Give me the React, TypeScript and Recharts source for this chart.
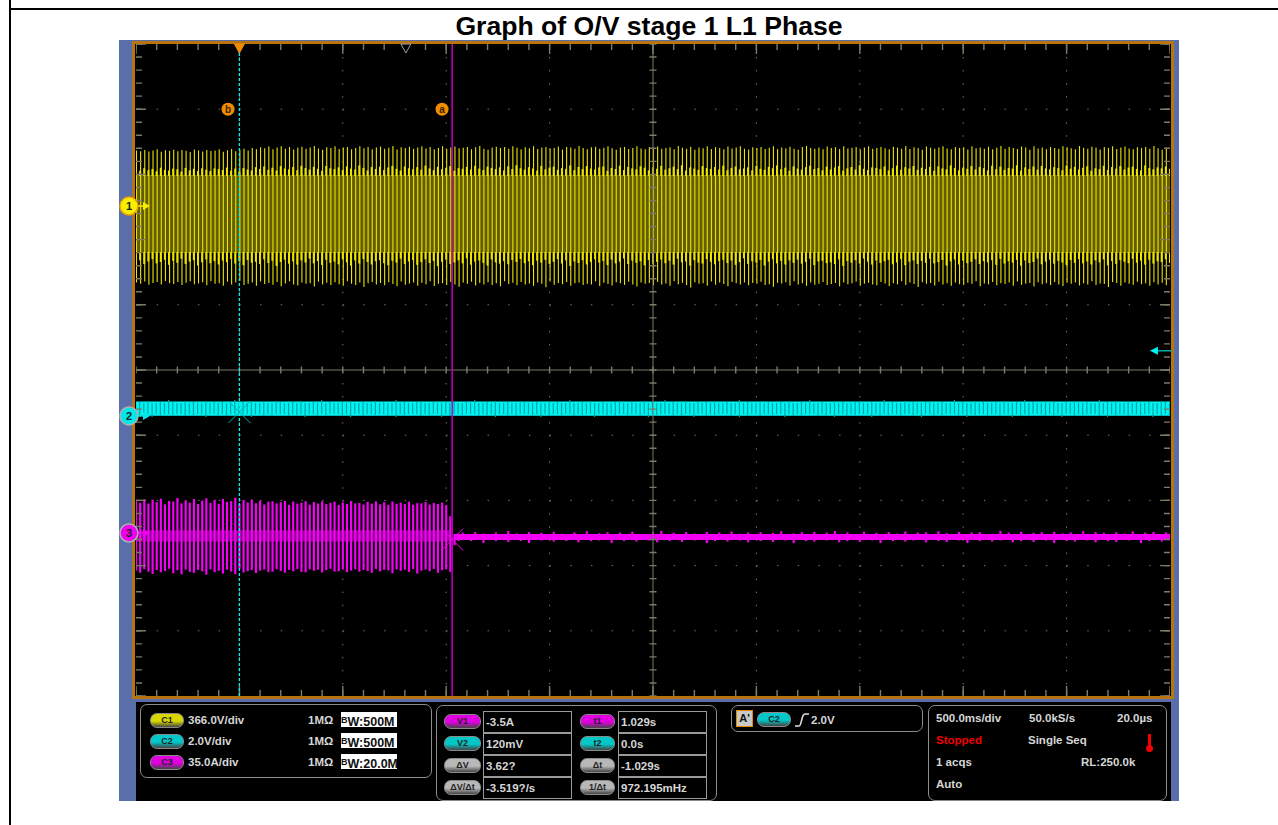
// App.tsx - scope capture "Graph of O/V stage 1 L1 Phase"
import React from 'react';
import { ComposedChart, Area, Bar, XAxis, YAxis, CartesianGrid, ReferenceLine, ReferenceDot } from 'recharts';

// one sample per mains cycle (20 ms), 500 ms/div over 10 div
const SAMPLE_MS = 20;
const TRIP_T = 1529;
const TRIGGER_T = 500;

// C1, volts: spike tips
const c1High = [
  312, 308, 315, 306, 311, 318, 304, 313, 309, 316,
  307, 314, 310, 303, 317, 312, 306, 315, 309, 311,
  318, 305, 313, 320, 308, 316, 322, 311, 326, 318,
  330, 324, 334, 319, 328, 336, 322, 331, 317, 327,
  333, 321, 329, 337, 323, 316, 330, 325, 335, 320,
  328, 332, 318, 326, 336, 324, 331, 319, 329, 334,
  322, 327, 337, 317, 330, 325, 333, 321, 328, 335,
  323, 331, 318, 326, 336, 320, 329, 334, 324, 327,
  332, 319, 330, 337, 322, 316, 328, 333, 325, 331,
  321, 335, 327, 318, 330, 324, 336, 320, 329, 332,
  323, 326, 334, 317, 331, 328, 322, 337, 325, 319,
  330, 333, 321, 327, 335, 324, 316, 329, 332, 320,
  326, 336, 323, 318, 331, 328, 334, 322, 325, 330,
  319, 337, 327, 321, 333, 316, 329, 324, 335, 320,
  331, 326, 318, 334, 323, 328, 336, 322, 317, 330,
  325, 332, 320, 327, 335, 319, 329, 324, 333, 321,
  316, 331, 337, 326, 322, 328, 318, 334, 325, 330,
  320, 336, 323, 327, 332, 317, 329, 335, 321, 326,
  331, 324, 318, 333, 328, 322, 337, 320, 330, 325,
  316, 334, 327, 321, 329, 336, 323, 319, 332, 326,
  330, 317, 335, 324, 328, 321, 333, 318, 327, 337,
  322, 331, 325, 320, 334, 329, 316, 336, 323, 328,
  319, 332, 326, 321, 335, 330, 324, 318, 337, 327,
  322, 333, 329, 317, 331, 325, 336, 320, 328, 334,
  323, 319, 330, 326, 332, 321, 337, 324, 316, 329,
  327,
];

const c1Low = [
  -430, -436, -424, -442, -432, -427, -440, -421, -434, -438,
  -426, -443, -431, -423, -439, -435, -428, -445, -422, -437,
  -433, -447, -425, -441, -429, -420, -444, -436, -430, -448,
  -424, -438, -432, -442, -427, -450, -435, -423, -440, -446,
  -429, -437, -433, -452, -425, -441, -431, -444, -428, -439,
  -448, -422, -436, -443, -430, -455, -434, -426, -440, -432,
  -445, -428, -438, -451, -424, -442, -435, -429, -447, -431,
  -439, -423, -449, -437, -433, -444, -427, -441, -453, -430,
  -436, -425, -446, -432, -440, -428, -443, -434, -450, -422,
  -438, -431, -445, -426, -441, -435, -448, -429, -437, -456,
  -424, -442, -432, -439, -427, -447, -433, -430, -444, -436,
  -440, -423, -449, -431, -438, -446, -428, -434, -443, -425,
  -441, -452, -429, -437, -432, -445, -426, -440, -435, -448,
  -422, -439, -431, -443, -458, -428, -436, -433, -447, -424,
  -442, -430, -438, -450, -427, -434, -441, -429, -445, -432,
  -437, -425, -444, -439, -453, -431, -435, -428, -446, -423,
  -440, -433, -448, -430, -442, -436, -426, -443, -438, -432,
  -451, -429, -439, -434, -424, -447, -437, -431, -441, -445,
  -427, -435, -449, -433, -440, -422, -443, -430, -438, -454,
  -428, -436, -432, -446, -425, -441, -434, -448, -429, -439,
  -443, -431, -437, -423, -450, -435, -440, -427, -445, -433,
  -438, -430, -447, -424, -442, -436, -432, -452, -428, -439,
  -434, -444, -426, -441, -449, -431, -437, -429, -446, -433,
  -440, -423, -443, -435, -438, -455, -427, -432, -448, -430,
  -436, -442, -425, -439, -433, -447, -428, -441, -431, -445,
  -437,
];

// C1, volts: upper and lower shoulders where the trace piles up
const c1ShoulderHigh = [
  205, 198, 212, 201, 208, 195, 215, 203, 199, 210,
  206, 193, 214, 200, 209, 197, 212, 204, 196, 211,
  207, 202, 216, 198, 210, 194, 213, 205, 200, 218,
  208, 222, 203, 215, 199, 224, 211, 206, 219, 201,
  226, 213, 204, 220, 209, 198, 225, 212, 207, 217,
  202, 223, 210, 205, 228, 214, 200, 219, 208, 221,
  203, 216, 225, 209, 199, 222, 212, 206, 218, 204,
  227, 211, 201, 220, 207, 215, 224, 198, 213, 209,
  219, 205, 226, 210, 202, 221, 214, 207, 217, 200,
  223, 208, 229, 212, 204, 218, 211, 199, 225, 206,
  216, 221, 203, 213, 209, 228, 201, 219, 207, 224,
  210, 205, 217, 222, 198, 214, 208, 226, 202, 220,
  211, 206, 223, 215, 200, 218, 209, 225, 204, 212,
  221, 207, 229, 199, 216, 210, 203, 224, 213, 208,
  219, 205, 227, 201, 214, 222, 206, 211, 217, 200,
  225, 209, 203, 220, 212, 228, 207, 215, 198, 223,
  210, 204, 218, 226, 208, 213, 201, 221, 206, 216,
  224, 199, 211, 219, 205, 229, 209, 202, 217, 214,
  207, 222, 200, 212, 227, 204, 218, 210, 225, 203,
  215, 208, 220, 198, 223, 211, 206, 228, 213, 201,
  216, 209, 224, 205, 219, 212, 200, 226, 207, 221,
  203, 214, 210, 229, 199, 217, 208, 222, 204, 225,
  211, 206, 218, 213, 201, 227, 209, 220, 205, 215,
  223, 198, 212, 207, 226, 202, 219, 210, 224, 204,
  216, 221, 208, 200, 228, 213, 206, 217, 211, 222,
  209,
];

const c1ShoulderLow = [
  -318, -305, -326, -311, -298, -322, -314, -302, -330, -308,
  -319, -296, -325, -312, -304, -334, -316, -300, -321, -309,
  -328, -306, -315, -297, -323, -310, -332, -303, -318, -313,
  -326, -299, -320, -307, -336, -314, -301, -324, -311, -329,
  -305, -317, -295, -322, -309, -331, -302, -319, -312, -327,
  -300, -316, -335, -306, -323, -298, -314, -328, -310, -304,
  -321, -333, -307, -318, -296, -325, -311, -303, -330, -315,
  -299, -320, -308, -337, -313, -301, -326, -317, -305, -322,
  -294, -329, -312, -306, -319, -334, -300, -316, -324, -309,
  -327, -303, -314, -297, -321, -310, -332, -307, -318, -302,
  -325, -313, -298, -323, -305, -336, -311, -320, -304, -328,
  -315, -299, -317, -308, -331, -301, -322, -312, -295, -326,
  -306, -319, -310, -333, -303, -324, -314, -300, -321, -307,
  -329, -296, -316, -311, -335, -304, -318, -323, -298, -313,
  -327, -309, -302, -320, -306, -330, -315, -294, -325, -310,
  -317, -303, -334, -312, -299, -322, -308, -328, -305, -319,
  -301, -324, -314, -297, -331, -311, -307, -321, -316, -326,
  -300, -336, -309, -318, -304, -323, -295, -313, -329, -306,
  -320, -310, -302, -327, -317, -298, -332, -312, -305, -325,
  -308, -319, -296, -322, -315, -303, -334, -311, -300, -328,
  -307, -321, -313, -299, -326, -309, -316, -304, -330, -297,
  -323, -310, -318, -302, -335, -306, -320, -314, -295, -327,
  -312, -301, -324, -308, -317, -331, -303, -319, -298, -322,
  -311, -328, -305, -316, -300, -333, -309, -325, -304, -313,
  -321, -296, -318, -307, -329, -302, -323, -310, -315, -299,
  -320,
];

// C2, millivolts: noise outside the thick trace
const c2High = [
  400, 430, 400, 460, 400, 400, 430, 400, 490, 430,
  400, 400, 460, 400, 430, 400, 400, 460, 400, 430,
  400, 430, 400, 400, 490, 400, 430, 400, 460, 400,
  400, 430, 400, 400, 460, 430, 400, 400, 430, 400,
  460, 400, 400, 430, 400, 490, 400, 430, 400, 400,
  430, 400, 460, 400, 400, 430, 400, 400, 460, 400,
  430, 400, 400, 490, 400, 430, 400, 400, 430, 460,
  400, 400, 430, 400, 400, 460, 400, 430, 400, 400,
  430, 400, 490, 400, 400, 430, 400, 460, 400, 400,
  430, 400, 400, 460, 430, 400, 400, 430, 400, 400,
  460, 400, 430, 400, 400, 490, 400, 400, 430, 400,
  460, 400, 400, 430, 400, 400, 430, 460, 400, 400,
  430, 400, 400, 460, 400, 430, 400, 400, 490, 400,
  430, 400, 400, 460, 400, 400, 430, 400, 430, 400,
  460, 400, 400, 430, 400, 400, 490, 400, 430, 400,
  400, 460, 400, 430, 400, 400, 430, 400, 460, 400,
  400, 430, 400, 490, 400, 400, 430, 400, 400, 460,
  400, 430, 400, 400, 430, 460, 400, 400, 430, 400,
  400, 490, 400, 430, 400, 400, 460, 400, 430, 400,
  400, 430, 460, 400, 400, 430, 400, 400, 490, 400,
  430, 400, 400, 460, 400, 430, 400, 400, 430, 400,
  460, 400, 400, 430, 400, 490, 400, 430, 400, 400,
  460, 400, 430, 400, 400, 430, 400, 460, 400, 400,
  430, 400, 400, 490, 400, 430, 400, 460, 400, 400,
  430, 400, 460, 400, 400, 430, 400, 400, 460, 430,
  400,
];

const c2Low = [
  60, 30, 60, 60, -30, 60, 0, 60, 60, 30,
  60, 60, 0, 60, 30, 60, 60, -30, 60, 60,
  30, 60, 0, 60, 60, 30, 60, 60, -30, 60,
  60, 0, 60, 30, 60, 60, 60, 0, 60, 30,
  60, -30, 60, 60, 0, 60, 30, 60, 60, 60,
  30, 60, -30, 60, 60, 0, 60, 60, 30, 60,
  60, 0, 60, -30, 60, 30, 60, 60, 60, 0,
  60, 30, 60, 60, -30, 60, 0, 60, 60, 30,
  60, 60, 60, 0, 60, 30, 60, -30, 60, 60,
  30, 60, 0, 60, 60, 60, 30, 60, -30, 60,
  0, 60, 60, 30, 60, 60, 0, 60, 30, 60,
  60, -30, 60, 60, 30, 60, 0, 60, 60, 30,
  60, 60, 0, 60, -30, 60, 30, 60, 60, 60,
  0, 60, 30, 60, 60, -30, 60, 60, 0, 60,
  30, 60, 60, 60, 0, 60, -30, 60, 30, 60,
  60, 0, 60, 60, 30, 60, 60, -30, 60, 0,
  60, 30, 60, 60, 60, 0, 60, 30, 60, -30,
  60, 60, 0, 60, 30, 60, 60, 60, -30, 60,
  0, 60, 30, 60, 60, 0, 60, 60, 30, 60,
  -30, 60, 60, 0, 60, 30, 60, 60, 60, 0,
  60, -30, 60, 30, 60, 60, 0, 60, 60, 30,
  60, 60, -30, 60, 0, 60, 30, 60, 60, 60,
  0, 60, 30, 60, -30, 60, 60, 0, 60, 30,
  60, 60, 60, 0, 60, -30, 60, 30, 60, 60,
  0, 60, 60, 30, 60, 60, -30, 60, 0, 60,
  30,
];

// C3, amps: big spikes up to the trip, then the small residual noise
const c3High = [
  17.5, 16.2, 18.1, 15.8, 17.9, 16.6, 18.4, 15.4, 17.2, 16.9,
  18.8, 15.9, 17.6, 16.3, 18.2, 15.6, 17.4, 18.6, 16.1, 17.8,
  15.7, 18.3, 16.7, 17.1, 18.9, 15.5, 17.7, 16.4, 18.0, 16.0,
  17.3, 15.3, 16.8, 17.0, 15.9, 16.5, 17.2, 15.1, 16.9, 15.7,
  16.3, 17.1, 15.2, 16.6, 15.8, 17.0, 15.5, 16.2, 16.8, 15.0,
  16.4, 15.6, 17.2, 15.9, 16.1, 15.3, 16.7, 15.8, 17.0, 15.4,
  16.5, 15.1, 16.9, 15.7, 16.2, 15.5, 16.8, 15.2, 16.0, 15.9,
  16.6, 15.3, 16.1, 15.6, 16.4, 15.0, 9.0, -0.5, -0.8, 0.2,
  -0.8, -0.8, 0.5, -0.8, -0.3, -0.8, -0.8, 0.3, -0.8, -0.8,
  1.1, -0.8, -0.2, -0.8, -0.8, 0.5, -0.8, -0.8, 0.1, -0.8,
  -0.8, 0.6, -0.8, -0.4, -0.8, -0.8, 0.3, -0.8, -0.8, 0.9,
  -0.8, -0.8, -0.1, -0.8, 0.4, -0.8, -0.8, 0.2, -0.8, -0.8,
  0.7, -0.8, -0.5, -0.8, -0.8, 0.3, -0.8, 1.1, -0.8, -0.8,
  0.1, -0.8, -0.8, 0.5, -0.8, -0.3, -0.8, -0.8, 0.6, -0.8,
  -0.8, 0.2, -0.8, -0.8, 0.8, -0.8, -0.4, -0.8, 0.3, -0.8,
  -0.8, 0.5, -0.8, -0.8, 0.1, -0.8, 0.9, -0.8, -0.8, -0.2,
  -0.8, 0.4, -0.8, -0.8, 0.6, -0.8, -0.8, 0.2, -0.8, 1.1,
  -0.8, -0.8, 0.3, -0.8, -0.5, -0.8, 0.7, -0.8, -0.8, 0.1,
  -0.8, -0.8, 0.5, -0.8, -0.3, -0.8, 0.8, -0.8, -0.8, 0.2,
  -0.8, 0.4, -0.8, -0.8, 0.9, -0.8, -0.1, -0.8, -0.8, 0.6,
  -0.8, -0.8, 0.3, -0.8, 0.5, -0.8, -0.8, -0.4, -0.8, 1.1,
  -0.8, 0.2, -0.8, -0.8, 0.7, -0.8, -0.8, 0.1, -0.8, 0.4,
  -0.8, -0.8, 0.6, -0.8, -0.2, -0.8, 0.3, -0.8, -0.8, 0.9,
  -0.8, -0.8, 0.5, -0.8, 0.1, -0.8, -0.8, 0.4, -0.8, -0.3,
  -0.8, 0.8, -0.8, -0.8, 0.2, -0.8, 0.6, -0.8, -0.8, 0.3,
  -0.8,
];

const c3Low = [
  -20.1, -21.3, -19.4, -20.8, -22.0, -19.9, -21.1, -20.4, -19.2, -21.6,
  -20.0, -22.2, -19.6, -20.9, -21.4, -19.8, -20.6, -22.4, -19.5, -21.0,
  -20.3, -21.8, -19.7, -20.7, -22.1, -19.3, -21.2, -20.5, -19.9, -21.5,
  -20.2, -19.6, -21.0, -20.8, -19.4, -20.4, -21.3, -19.8, -20.6, -19.3,
  -20.9, -21.1, -19.5, -20.3, -19.7, -21.2, -20.0, -19.2, -20.7, -20.5,
  -19.6, -21.0, -20.2, -19.4, -20.8, -19.9, -20.4, -21.4, -19.3, -20.6,
  -19.8, -20.1, -21.6, -19.5, -20.3, -19.7, -20.9, -19.4, -21.8, -20.2,
  -19.6, -20.5, -19.3, -21.3, -20.0, -19.5, -21.0, -6.5, -4.3, -3.5,
  -3.5, -4.3, -3.5, -3.5, -5.4, -3.5, -3.5, -4.3, -3.5, -3.5,
  -4.8, -3.5, -3.5, -4.3, -3.5, -5.4, -3.5, -3.5, -4.0, -3.5,
  -3.5, -4.6, -3.5, -3.5, -4.3, -3.5, -3.5, -5.0, -3.5, -3.5,
  -4.3, -3.5, -4.0, -3.5, -3.5, -5.4, -3.5, -3.5, -4.3, -3.5,
  -3.5, -4.6, -3.5, -3.5, -4.0, -3.5, -5.0, -3.5, -3.5, -4.3,
  -3.5, -3.5, -4.8, -3.5, -3.5, -4.0, -3.5, -3.5, -5.4, -3.5,
  -4.3, -3.5, -3.5, -4.6, -3.5, -3.5, -4.0, -3.5, -5.0, -3.5,
  -3.5, -4.3, -3.5, -3.5, -4.8, -3.5, -3.5, -4.0, -3.5, -5.4,
  -3.5, -3.5, -4.3, -3.5, -4.6, -3.5, -3.5, -4.0, -3.5, -3.5,
  -5.0, -3.5, -4.3, -3.5, -3.5, -4.8, -3.5, -3.5, -4.0, -3.5,
  -5.4, -3.5, -3.5, -4.3, -3.5, -3.5, -4.6, -3.5, -4.0, -3.5,
  -3.5, -5.0, -3.5, -3.5, -4.3, -3.5, -4.8, -3.5, -3.5, -4.0,
  -3.5, -5.4, -3.5, -3.5, -4.3, -3.5, -3.5, -4.6, -3.5, -4.0,
  -3.5, -3.5, -5.0, -3.5, -4.3, -3.5, -3.5, -4.8, -3.5, -3.5,
  -4.0, -3.5, -5.4, -3.5, -3.5, -4.3, -3.5, -4.6, -3.5, -3.5,
  -4.0, -3.5, -5.0, -3.5, -3.5, -4.3, -3.5, -4.8, -3.5, -3.5,
  -4.0, -3.5, -3.5, -5.4, -3.5, -4.3, -3.5, -3.5, -4.6, -3.5,
  -4.0,
];

// thick parts of each trace, [low, high]
const c1CoreRange = [-264, 174];
const c2BandRange = [10, 440];
const c3PreBandRange = [-4.5, 1.5];
const c3PostBandRange = [-3.7, -0.6];

const rows = c1High.map((high, i) => {
  const t = i * SAMPLE_MS;
  return {
    t,
    c1: [c1Low[i], high],
    c1Core: c1CoreRange,
    c1Upper: [c1CoreRange[1] - 6, c1ShoulderHigh[i]],
    c1Lower: [c1ShoulderLow[i], c1CoreRange[0] + 6],
    c2: [c2Low[i], c2High[i]],
    c2Band: c2BandRange,
    c3: [c3Low[i], c3High[i]],
    c3Pre: t <= TRIP_T ? c3PreBandRange : null,
    c3Post: t >= TRIP_T ? c3PostBandRange : null,
  };
});

const gridDivs = [-4, -3, -2, -1, 1, 2, 3, 4];
const gridTimes = [500, 1000, 1500, 2000, 3000, 3500, 4000, 4500];

const channelRows = [
  { name: 'C1', scale: '366.0V/div', bw: '500M', pill: '#d8d800' },
  { name: 'C2', scale: '2.0V/div', bw: '500M', pill: '#00c8c8' },
  { name: 'C3', scale: '35.0A/div', bw: '20.0M', pill: '#e000e0' },
];
const cursorRows = [
  ['V1', '-3.5A', '#e000e0', 't1', '1.029s', '#e000e0'],
  ['V2', '120mV', '#00c8c8', 't2', '0.0s', '#00c8c8'],
  ['ΔV', '3.62?', '#b8b8b8', 'Δt', '-1.029s', '#b8b8b8'],
  ['ΔV/Δt', '-3.519?/s', '#b8b8b8', '1/Δt', '972.195mHz', '#b8b8b8'],
];

const YELLOW = '#ece400';
const CYAN = '#00f4f4';
const MAGENTA = '#f400f4';
const ORANGE = '#f08c00';
const TICK = '#7d7a68';
const DIV_X = 103.4;
const DIV_Y = 65.2;

const uiFont = '"Liberation Sans", Arial, sans-serif';
const abs = (left: number, top: number, extra: React.CSSProperties = {}): React.CSSProperties => ({
  position: 'absolute', left, top, ...extra,
});

function Pill({ left, top, width, color, text }: any) {
  return (
    <div style={abs(left, top, {
      width, height: 13, borderRadius: 7, background: `linear-gradient(${color}, ${color} 55%, #444)`,
      border: '1px solid #8a8a8a', color: '#222', fontSize: 9, fontWeight: 700, lineHeight: '13px', textAlign: 'center',
      boxSizing: 'content-box',
    })}>{text}</div>
  );
}

function Label({ left, top, color = '#d6d6d6', children }: any) {
  return <div style={abs(left, top, { color, fontSize: 11.5, fontWeight: 700, lineHeight: '14px', whiteSpace: 'nowrap' })}>{children}</div>;
}

const panelBox = (left: number, top: number, width: number, height: number): React.CSSProperties =>
  abs(left, top, { width, height, border: '1px solid #8c8c8c', borderRadius: 7, boxSizing: 'border-box' });

function Panels() {
  return (
    <div style={{ fontFamily: uiFont }}>
      <div style={abs(136, 702, { width: 1035, height: 99, background: '#000' })} />
      <div style={panelBox(140, 704, 292, 74)} />
      {channelRows.map((r, i) => {
        const top = 713 + i * 21;
        return (
          <React.Fragment key={r.name}>
            <Pill left={150} top={top} width={32} color={r.pill} text={r.name} />
            <Label left={188} top={top}>{r.scale}</Label>
            <Label left={308} top={top}>1MΩ</Label>
            <div style={abs(341, top - 1, { width: 56, height: 15, background: '#fff', color: '#111', fontSize: 12.5, fontWeight: 700, lineHeight: '16px', whiteSpace: 'nowrap' })}>
              <span style={{ fontSize: 9, verticalAlign: 3 }}>B</span>W:{r.bw}
            </div>
          </React.Fragment>
        );
      })}
      <div style={panelBox(436, 705, 281, 96)} />
      {cursorRows.map((r, i) => {
        const top = 711 + i * 22;
        return (
          <React.Fragment key={r[0]}>
            <Pill left={444} top={top + 3} width={35} color={r[2]} text={r[0]} />
            <div style={abs(483, top, { width: 89, height: 22, border: '1px solid #9a9a9a', boxSizing: 'border-box' })} />
            <Label left={486} top={top + 4}>{r[1]}</Label>
            <Pill left={580} top={top + 3} width={33} color={r[5]} text={r[3]} />
            <div style={abs(618, top, { width: 89, height: 22, border: '1px solid #9a9a9a', boxSizing: 'border-box' })} />
            <Label left={621} top={top + 4}>{r[4]}</Label>
          </React.Fragment>
        );
      })}
      <div style={panelBox(731, 705, 192, 27)} />
      <div style={abs(736, 710, { width: 17, height: 17, background: '#c8c8c8', border: '1px solid #e08a00', boxSizing: 'border-box', color: '#111', fontSize: 11, fontWeight: 700, textAlign: 'center', lineHeight: '14px' })}>A'</div>
      <Pill left={757} top={712} width={32} color="#00c8c8" text="C2" />
      <svg style={abs(794, 712, { width: 16, height: 16 })}>
        <path d="M1 14 H5 C8 14 7 2 11 2 H15" fill="none" stroke="#e0e0e0" strokeWidth="1.6" />
      </svg>
      <Label left={811} top={713}>2.0V</Label>
      <div style={panelBox(928, 705, 239, 96)} />
      <Label left={936} top={711}>500.0ms/div</Label>
      <Label left={1029} top={711}>50.0kS/s</Label>
      <Label left={1117} top={711}>20.0µs</Label>
      <Label left={936} top={733} color="#f00000">Stopped</Label>
      <Label left={1028} top={733}>Single Seq</Label>
      <div style={abs(1148, 734, { width: 3, height: 13, background: '#f00000' })} />
      <div style={abs(1146, 745, { width: 7, height: 7, borderRadius: 4, background: '#f00000' })} />
      <Label left={936} top={755}>1 acqs</Label>
      <Label left={1081} top={755}>RL:250.0k</Label>
      <Label left={936} top={777}>Auto</Label>
    </div>
  );
}

const ChannelBadge = ({ cx, cy, color, ring, label }: any) => (
  <g>
    <line x1={cx + 8} y1={cy} x2={cx + 16} y2={cy} stroke={color} strokeWidth={1.5} />
    <path d={`M${cx + 14} ${cy - 4} L${cx + 21} ${cy} L${cx + 14} ${cy + 4} Z`} fill={color} />
    <circle cx={cx} cy={cy} r={9} fill={color} stroke={ring} strokeWidth={1.5} />
    <text x={cx} y={cy + 4} textAnchor="middle" fontFamily={uiFont} fontSize={11} fontWeight={700} fill="#222">{label}</text>
  </g>
);

const CursorTag = ({ cx, cy, label }: any) => (
  <g>
    <circle cx={cx} cy={cy} r={6.5} fill={ORANGE} />
    <text x={cx} y={cy + 3.5} textAnchor="middle" fontFamily={uiFont} fontSize={10} fontWeight={700} fill="#3a2200">{label}</text>
  </g>
);

const CrossMark = ({ cx, cy, color }: any) => (
  <g stroke={color} strokeWidth={1}>
    <line x1={cx - 11} y1={cy - 11} x2={cx + 11} y2={cy + 11} />
    <line x1={cx - 11} y1={cy + 11} x2={cx + 11} y2={cy - 11} />
  </g>
);

const TopMarker = ({ cx, cy, markFill, markStroke }: any) => (
  <path d={`M${cx - 5} ${cy} L${cx + 5} ${cy} L${cx} ${cy + 9} Z`} fill={markFill} stroke={markStroke} strokeWidth={1} />
);

const TriggerArrow = ({ cx, cy }: any) => (
  <g>
    <line x1={cx - 14} y1={cy} x2={cx + 4} y2={cy} stroke="#00a8a8" strokeWidth={1.5} />
    <path d={`M${cx - 10} ${cy - 4} L${cx - 18} ${cy} L${cx - 10} ${cy + 4} Z`} fill={CYAN} />
  </g>
);

const traceAxes = ['x1', 'x1u', 'x1l', 'x2', 'x3'];

// tick rows along an edge or the centre cross: a thick dashed line reads as a row of ticks
const tickDash = (period: number) => ({ strokeDasharray: `1.4 ${period - 1.4}`, strokeDashoffset: 0.7 });

export default function App() {
  return (
    <div style={{ position: 'absolute', left: 0, top: 0, width: 1278, height: 825, background: '#fff', overflow: 'hidden' }}>
      <div style={abs(9, 0, { width: 2, height: 825, background: '#000' })} />
      <div style={abs(9, 8, { width: 1269, height: 2, background: '#000' })} />
      <div style={abs(0, 11, { width: 1298, textAlign: 'center', fontFamily: uiFont, fontWeight: 700, fontSize: 26.6, lineHeight: '30px', color: '#000' })}>
        Graph of O/V stage 1 L1 Phase
      </div>
      <div style={abs(119, 40, { width: 1060, height: 761, background: '#5a6eaa' })} />
      <div style={abs(132, 41, { width: 1042, height: 658, background: '#000', border: '3px solid #b8740f', boxSizing: 'border-box' })} />
      <Panels />
      <div style={abs(0, 0)}>
        <ComposedChart width={1278} height={825} data={rows} margin={{ top: 44, right: 108, bottom: 129, left: 136 }}>
          <XAxis xAxisId="time" dataKey="t" type="number" domain={[0, 5000]} allowDataOverflow hide />
          {traceAxes.map((id) => (
            <XAxis key={id} xAxisId={id} dataKey="t" type="number" domain={[0, 5000]} allowDataOverflow hide />
          ))}
          <YAxis yAxisId="div" type="number" domain={[-5, 5]} allowDataOverflow hide />
          <YAxis yAxisId="c1" type="number" domain={[-2750.5, 909.5]} allowDataOverflow hide />
          <YAxis yAxisId="c2" type="number" domain={[-8590, 11410]} allowDataOverflow hide />
          <YAxis yAxisId="c3" type="number" domain={[-87.5, 262.5]} allowDataOverflow hide />

          <CartesianGrid xAxisId="time" yAxisId="div" vertical={false} horizontalValues={gridDivs} stroke={TICK} strokeDasharray="1.4 19.28" />
          <CartesianGrid xAxisId="time" yAxisId="div" horizontal={false} verticalValues={gridTimes} stroke={TICK} strokeDasharray="1.4 11.64" />

          <ReferenceLine xAxisId="time" yAxisId="div" y={0} stroke={TICK} strokeWidth={1} />
          <ReferenceLine xAxisId="time" yAxisId="div" x={2500} stroke={TICK} strokeWidth={1} />
          <ReferenceLine xAxisId="time" yAxisId="div" y={0} stroke={TICK} strokeWidth={7} {...tickDash(DIV_X / 5)} />
          <ReferenceLine xAxisId="time" yAxisId="div" x={2500} stroke={TICK} strokeWidth={7} {...tickDash(DIV_Y / 5)} />

          <ReferenceLine xAxisId="time" yAxisId="div" y={4.954} stroke={TICK} strokeWidth={6} {...tickDash(DIV_X / 5)} />
          <ReferenceLine xAxisId="time" yAxisId="div" y={-4.954} stroke={TICK} strokeWidth={6} {...tickDash(DIV_X / 5)} />
          <ReferenceLine xAxisId="time" yAxisId="div" x={14.5} stroke={TICK} strokeWidth={6} {...tickDash(DIV_Y / 5)} />
          <ReferenceLine xAxisId="time" yAxisId="div" x={4985.5} stroke={TICK} strokeWidth={6} {...tickDash(DIV_Y / 5)} />
          <ReferenceLine xAxisId="time" yAxisId="div" y={4.923} stroke={TICK} strokeWidth={10} {...tickDash(DIV_X)} />
          <ReferenceLine xAxisId="time" yAxisId="div" y={-4.923} stroke={TICK} strokeWidth={10} {...tickDash(DIV_X)} />
          <ReferenceLine xAxisId="time" yAxisId="div" x={24} stroke={TICK} strokeWidth={10} {...tickDash(DIV_Y)} />
          <ReferenceLine xAxisId="time" yAxisId="div" x={4976} stroke={TICK} strokeWidth={10} {...tickDash(DIV_Y)} />

          <Area xAxisId="time" yAxisId="c1" dataKey="c1Core" type="linear" stroke="none" fill="#625e00" fillOpacity={1} isAnimationActive={false} dot={false} activeDot={false} />
          <Bar xAxisId="x1" yAxisId="c1" dataKey="c1" barSize={1.1} fill={YELLOW} isAnimationActive={false} />
          <Bar xAxisId="x1u" yAxisId="c1" dataKey="c1Upper" barSize={2} fill={YELLOW} isAnimationActive={false} />
          <Bar xAxisId="x1l" yAxisId="c1" dataKey="c1Lower" barSize={2} fill={YELLOW} isAnimationActive={false} />

          <Bar xAxisId="x2" yAxisId="c2" dataKey="c2" barSize={1.2} fill="#00a4a4" isAnimationActive={false} />
          <Area xAxisId="time" yAxisId="c2" dataKey="c2Band" type="linear" stroke="none" fill={CYAN} fillOpacity={1} isAnimationActive={false} dot={false} activeDot={false} />

          <Area xAxisId="time" yAxisId="c3" dataKey="c3Pre" type="linear" stroke="none" fill="#8a008a" fillOpacity={1} isAnimationActive={false} dot={false} activeDot={false} />
          <Bar xAxisId="x3" yAxisId="c3" dataKey="c3" barSize={2.2} fill={MAGENTA} isAnimationActive={false} />
          <Area xAxisId="time" yAxisId="c3" dataKey="c3Post" type="linear" stroke="none" fill={MAGENTA} fillOpacity={1} isAnimationActive={false} dot={false} activeDot={false} />

          <ReferenceLine xAxisId="time" yAxisId="div" x={TRIGGER_T} stroke="#00f0f0" strokeWidth={1.3} strokeDasharray="3 2" isFront />
          <ReferenceLine xAxisId="time" yAxisId="div" x={TRIP_T} stroke="#c000c0" strokeWidth={1.5} isFront />

          <ReferenceDot xAxisId="time" yAxisId="div" x={TRIGGER_T} y={5} ifOverflow="visible" shape={<TopMarker markFill={ORANGE} markStroke={ORANGE} />} isFront />
          <ReferenceDot xAxisId="time" yAxisId="div" x={1305} y={5} ifOverflow="visible" shape={<TopMarker markFill="#000" markStroke="#a0a0a0" />} isFront />
          <ReferenceDot xAxisId="time" yAxisId="div" x={445} y={4} ifOverflow="visible" shape={<CursorTag label="b" />} isFront />
          <ReferenceDot xAxisId="time" yAxisId="div" x={1480} y={4} ifOverflow="visible" shape={<CursorTag label="a" />} isFront />
          <ReferenceDot xAxisId="time" yAxisId="c2" x={TRIGGER_T} y={120} ifOverflow="visible" shape={<CrossMark color="#00b0b0" />} isFront />
          <ReferenceDot xAxisId="time" yAxisId="c3" x={TRIP_T} y={-3.5} ifOverflow="visible" shape={<CrossMark color={MAGENTA} />} isFront />
          <ReferenceDot xAxisId="time" yAxisId="c2" x={4990} y={2000} ifOverflow="visible" shape={<TriggerArrow />} isFront />
          <ReferenceDot xAxisId="time" yAxisId="c1" x={-34} y={0} ifOverflow="visible" shape={<ChannelBadge color="#f6f000" ring="#f0a000" label="1" />} isFront />
          <ReferenceDot xAxisId="time" yAxisId="c2" x={-34} y={0} ifOverflow="visible" shape={<ChannelBadge color="#00e8e8" ring="#b0b0b0" label="2" />} isFront />
          <ReferenceDot xAxisId="time" yAxisId="c3" x={-34} y={0} ifOverflow="visible" shape={<ChannelBadge color="#f000f0" ring="#b0b0b0" label="3" />} isFront />
        </ComposedChart>
      </div>
    </div>
  );
}
